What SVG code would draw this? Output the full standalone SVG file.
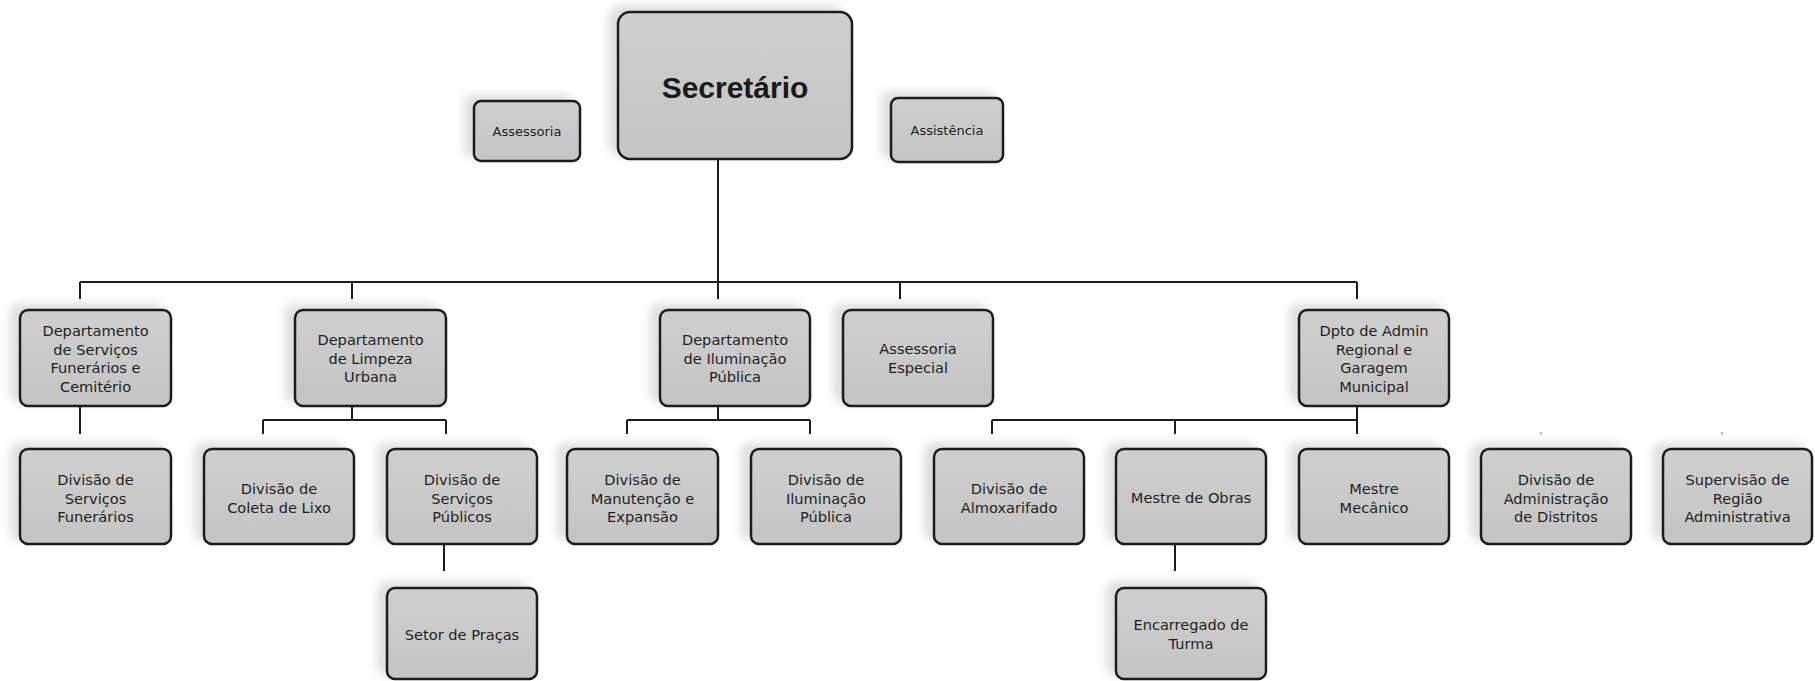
<svg xmlns="http://www.w3.org/2000/svg" width="1815" height="681" viewBox="0 0 1815 681">
<defs>
<filter id="sh" x="-20%" y="-20%" width="140%" height="140%">
<feDropShadow dx="-9" dy="-5" stdDeviation="5" flood-color="#000" flood-opacity="0.13"/>
</filter>
<linearGradient id="g" x1="0" y1="0" x2="0" y2="1">
<stop offset="0" stop-color="#cfcfcf"/>
<stop offset="1" stop-color="#c4c4c4"/>
</linearGradient>
</defs>
<style>
.b{fill:url(#g);stroke:#1c1c1c;stroke-width:2.5;filter:url(#sh)}
.t{font-family:"DejaVu Sans",sans-serif;font-size:14.6px;fill:#1f1f1f;text-anchor:middle}
.s{font-family:"DejaVu Sans",sans-serif;font-size:13px;fill:#1f1f1f;text-anchor:middle}
.h{font-family:"Liberation Sans",Arial,sans-serif;font-size:30px;font-weight:bold;fill:#1a1a1a;text-anchor:middle}
.c{fill:none;stroke:#1c1c1c;stroke-width:2}
</style>
<rect width="1815" height="681" fill="#fff"/>
<g id="connectors">
<path class="c" d="M718 159V299M80 282H1357M80 282V299M352 282V299M900 282V299M1357 282V299"/>
<path class="c" d="M80 406V434"/>
<path class="c" d="M352 406V420M263 420H446M263 420V434M446 420V434"/>
<path class="c" d="M718 406V420M627 420H810M627 420V434M810 420V434"/>
<path class="c" d="M1357 406V420M992 420H1357M992 420V434M1175 420V434M1357 420V434"/>
<path class="c" d="M444 544V571M1175 544V571"/>
<path d="M1541 432v3M1722 432v3" stroke="#aaa" stroke-width="1.5"/>
</g>
<g id="secretario"><rect class="b" x="618" y="12" width="234" height="147" rx="12"/><text class="h" x="735" y="98">Secretário</text></g>
<g id="assessoria"><rect class="b" x="474" y="101" width="106" height="60" rx="7"/><text class="s" x="527" y="136">Assessoria</text></g>
<g id="assistencia"><rect class="b" x="891" y="98" width="112" height="64" rx="7"/><text class="s" x="947" y="135">Assistência</text></g>

<g id="dept-funerarios"><rect class="b" x="20" y="310" width="151" height="96" rx="8"/><text class="t" x="95.5" y="336">Departamento</text><text class="t" x="95.5" y="354.5">de Serviços</text><text class="t" x="95.5" y="373">Funerários e</text><text class="t" x="95.5" y="391.5">Cemitério</text></g>
<g id="dept-limpeza"><rect class="b" x="295" y="310" width="151" height="96" rx="8"/><text class="t" x="370.5" y="345">Departamento</text><text class="t" x="370.5" y="363.5">de Limpeza</text><text class="t" x="370.5" y="382">Urbana</text></g>
<g id="dept-iluminacao"><rect class="b" x="660" y="310" width="150" height="96" rx="8"/><text class="t" x="735" y="345">Departamento</text><text class="t" x="735" y="363.5">de Iluminação</text><text class="t" x="735" y="382">Pública</text></g>
<g id="assessoria-especial"><rect class="b" x="843" y="310" width="150" height="96" rx="8"/><text class="t" x="918" y="354">Assessoria</text><text class="t" x="918" y="372.5">Especial</text></g>
<g id="dpto-admin"><rect class="b" x="1299" y="310" width="150" height="96" rx="8"/><text class="t" x="1374" y="336">Dpto de Admin</text><text class="t" x="1374" y="354.5">Regional e</text><text class="t" x="1374" y="373">Garagem</text><text class="t" x="1374" y="391.5">Municipal</text></g>

<g id="div-serv-funerarios"><rect class="b" x="20" y="449" width="151" height="95" rx="8"/><text class="t" x="95.5" y="485">Divisão de</text><text class="t" x="95.5" y="503.5">Serviços</text><text class="t" x="95.5" y="522">Funerários</text></g>
<g id="div-coleta"><rect class="b" x="204" y="449" width="150" height="95" rx="8"/><text class="t" x="279" y="494">Divisão de</text><text class="t" x="279" y="512.5">Coleta de Lixo</text></g>
<g id="div-serv-publicos"><rect class="b" x="387" y="449" width="150" height="95" rx="8"/><text class="t" x="462" y="485">Divisão de</text><text class="t" x="462" y="503.5">Serviços</text><text class="t" x="462" y="522">Públicos</text></g>
<g id="div-manutencao"><rect class="b" x="567" y="449" width="151" height="95" rx="8"/><text class="t" x="642.5" y="485">Divisão de</text><text class="t" x="642.5" y="503.5">Manutenção e</text><text class="t" x="642.5" y="522">Expansão</text></g>
<g id="div-iluminacao"><rect class="b" x="751" y="449" width="150" height="95" rx="8"/><text class="t" x="826" y="485">Divisão de</text><text class="t" x="826" y="503.5">Iluminação</text><text class="t" x="826" y="522">Pública</text></g>
<g id="div-almoxarifado"><rect class="b" x="934" y="449" width="150" height="95" rx="8"/><text class="t" x="1009" y="494">Divisão de</text><text class="t" x="1009" y="512.5">Almoxarifado</text></g>
<g id="mestre-obras"><rect class="b" x="1116" y="449" width="150" height="95" rx="8"/><text class="t" x="1191" y="503">Mestre de Obras</text></g>
<g id="mestre-mecanico"><rect class="b" x="1299" y="449" width="150" height="95" rx="8"/><text class="t" x="1374" y="494">Mestre</text><text class="t" x="1374" y="512.5">Mecânico</text></g>
<g id="div-adm-distritos"><rect class="b" x="1481" y="449" width="150" height="95" rx="8"/><text class="t" x="1556" y="485">Divisão de</text><text class="t" x="1556" y="503.5">Administração</text><text class="t" x="1556" y="522">de Distritos</text></g>
<g id="supervisao"><rect class="b" x="1663" y="449" width="149" height="95" rx="8"/><text class="t" x="1737.5" y="485">Supervisão de</text><text class="t" x="1737.5" y="503.5">Região</text><text class="t" x="1737.5" y="522">Administrativa</text></g>

<g id="setor-pracas"><rect class="b" x="387" y="588" width="150" height="91" rx="8"/><text class="t" x="462" y="640">Setor de Praças</text></g>
<g id="encarregado"><rect class="b" x="1116" y="588" width="150" height="91" rx="8"/><text class="t" x="1191" y="630">Encarregado de</text><text class="t" x="1191" y="648.5">Turma</text></g>
</svg>
